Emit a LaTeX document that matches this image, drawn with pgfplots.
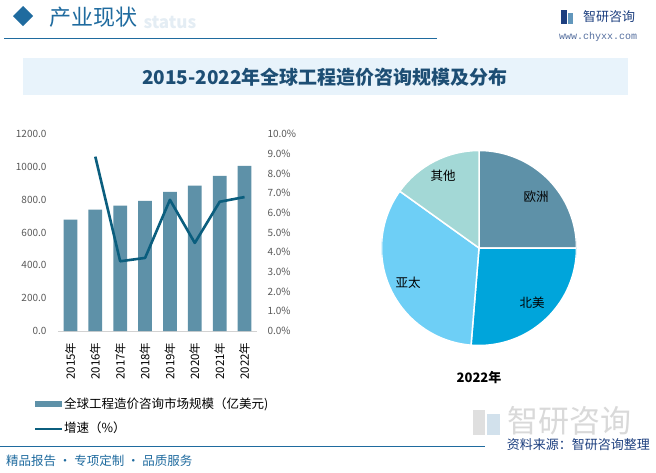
\documentclass[border=0pt]{standalone}
\usepackage{fontspec}
\setmainfont{Noto Sans CJK SC}
\newfontfamily\webfont{Liberation Mono}
\usepackage{pgfplots}
\pgfplotsset{compat=1.18}
\definecolor{barc}{HTML}{5E91A8}
\definecolor{linec}{HTML}{0B5E7E}
\definecolor{euc}{HTML}{5E91A8}
\definecolor{nac}{HTML}{00A5DB}
\definecolor{apc}{HTML}{6ECFF6}
\definecolor{otc}{HTML}{A3D8D6}
\definecolor{hdr}{HTML}{1F6B9F}
\definecolor{ttl}{HTML}{1D4E74}
\definecolor{band}{HTML}{E8F3FB}
\definecolor{tickc}{HTML}{595959}
\definecolor{logoc}{HTML}{1D3F7F}
\begin{document}
\begin{tikzpicture}
\path[use as bounding box] (0,0) rectangle (656bp,-473bp);
\fill[white] (0,0) rectangle (656bp,-473bp);

% header
\fill[hdr] (23bp,-6bp) -- (33bp,-16bp) -- (23bp,-26bp) -- (13bp,-16bp) -- cycle;
\node[anchor=west, text=hdr!12, font=\fontsize{17bp}{17bp}\selectfont\bfseries] at (140bp,-22bp) {status};
\node[anchor=west, inner sep=0pt, text=hdr, font=\fontsize{22bp}{22bp}\selectfont] at (49bp,-17bp) {产业现状};
\draw[hdr, line width=1bp] (4bp,-38bp) -- (437bp,-38bp);
\fill[logoc] (561bp,-10bp) rectangle (567bp,-24bp);
\fill[hdr!70] (568bp,-13bp) rectangle (573bp,-24bp);
\node[anchor=west, inner sep=0pt, text=logoc, font=\fontsize{13bp}{13bp}\selectfont] at (583bp,-17bp) {智研咨询};
\node[anchor=west, inner sep=0pt, text=logoc!75, font=\fontsize{10bp}{10bp}\selectfont\webfont] at (559bp,-36.5bp) {www.chyxx.com};

% title band
\fill[band] (23bp,-58bp) rectangle (628bp,-95bp);
\node[text=ttl, font=\fontsize{19bp}{19bp}\selectfont\bfseries] at (325bp,-77bp) {2015-2022年全球工程造价咨询规模及分布};

% bars
\begin{axis}[
  at={(58bp,-331bp)}, anchor=south west, scale only axis,
  width=199bp, height=197bp,
  xmin=-0.5, xmax=7.5, ymin=0, ymax=1200,
  axis x line*=bottom, axis y line*=left,
  x axis line style={draw=gray!35, -}, y axis line style={draw=none},
  major tick length=0pt,
  xtick={0,...,7},
  xticklabels={2015年,2016年,2017年,2018年,2019年,2020年,2021年,2022年},
  xticklabel shift=8bp,
  xticklabel style={rotate=90, anchor=east, font=\fontsize{11.5bp}{11.5bp}\selectfont, text=black},
  ytick={0,200,...,1200},
  yticklabel shift=8bp,
  yticklabel style={font=\fontsize{10bp}{10bp}\selectfont, text=tickc},
  /pgf/number format/assume math mode=true,
  /pgf/number format/.cd, fixed, fixed zerofill, precision=1, 1000 sep={},
]
\addplot[ybar, bar width=13.7bp, fill=barc, draw=none] coordinates {
(0,678) (1,739) (2,763) (3,793) (4,848) (5,885) (6,945) (7,1006)
};
\end{axis}

% growth line
\begin{axis}[
  at={(58bp,-331bp)}, anchor=south west, scale only axis,
  width=199bp, height=197bp,
  xmin=-0.5, xmax=7.5, ymin=0, ymax=10,
  axis x line=none, axis y line*=right,
  y axis line style={draw=none},
  major tick length=0pt,
  ytick={0,1,...,10},
  yticklabel shift=7bp,
  yticklabel={\pgfmathprintnumber[fixed,fixed zerofill,precision=1,assume math mode=true]{\tick}\%},
  yticklabel style={font=\fontsize{10bp}{10bp}\selectfont, text=tickc},
]
\addplot[linec, line width=2.6bp, line join=round] coordinates {
(1,8.85) (2,3.54) (3,3.71) (4,6.66) (5,4.47) (6,6.56) (7,6.80)
};
\end{axis}

% legend
\fill[barc] (35bp,-401bp) rectangle (62bp,-407bp);
\node[anchor=west, inner sep=0pt, font=\fontsize{12.5bp}{12.5bp}\selectfont] at (64bp,-404bp) {全球工程造价咨询市场规模（亿美元)};
\draw[linec, line width=2bp] (35bp,-429bp) -- (62bp,-429bp);
\node[anchor=west, inner sep=0pt, font=\fontsize{12.5bp}{12.5bp}\selectfont] at (64bp,-428bp) {增速（\%）};

% pie
\begin{axis}[
  at={(479bp,-248bp)}, anchor=center, scale only axis,
  width=195bp, height=195bp, hide axis,
  xmin=-1, xmax=1, ymin=-1, ymax=1,
]
\fill[euc, draw=white, line width=1.5bp] (axis cs:0,0) -- ++(90:97.5bp)
  arc[start angle=90, end angle={90-25.0*3.6}, radius=97.5bp] -- cycle;
\fill[nac, draw=white, line width=1.5bp] (axis cs:0,0) -- ++({90-25.0*3.6}:97.5bp)
  arc[start angle={90-25.0*3.6}, end angle={90-(25.0+26.3)*3.6}, radius=97.5bp] -- cycle;
\fill[apc, draw=white, line width=1.5bp] (axis cs:0,0) -- ++({90-(25.0+26.3)*3.6}:97.5bp)
  arc[start angle={90-(25.0+26.3)*3.6}, end angle={90-(25.0+26.3+33.6)*3.6}, radius=97.5bp] -- cycle;
\fill[otc, draw=white, line width=1.5bp] (axis cs:0,0) -- ++({90-(25.0+26.3+33.6)*3.6}:97.5bp)
  arc[start angle={90-(25.0+26.3+33.6)*3.6}, end angle={90-(25.0+26.3+33.6+15.1)*3.6}, radius=97.5bp] -- cycle;
\end{axis}
\node[font=\fontsize{12.5bp}{12.5bp}\selectfont] at (536bp,-197bp) {欧洲};
\node[font=\fontsize{12.5bp}{12.5bp}\selectfont] at (532bp,-303bp) {北美};
\node[font=\fontsize{12.5bp}{12.5bp}\selectfont] at (408bp,-283bp) {亚太};
\node[font=\fontsize{12.5bp}{12.5bp}\selectfont] at (443bp,-176bp) {其他};
\node[font=\fontsize{13bp}{13bp}\selectfont\bfseries] at (479bp,-378bp) {2022年};

% footer
\fill[gray!25] (473bp,-410bp) rectangle (485bp,-435bp);
\fill[hdr!20] (487bp,-414bp) rectangle (500bp,-435bp);
\node[anchor=west, inner sep=0pt, text=gray!30, font=\fontsize{31bp}{31bp}\selectfont] at (507bp,-421bp) {智研咨询};
\draw[hdr, line width=1bp] (0bp,-446bp) -- (485bp,-446bp);
\node[anchor=east, inner sep=0pt, text=logoc, font=\fontsize{13bp}{13bp}\selectfont] at (650bp,-445bp) {资料来源：智研咨询整理};
\node[anchor=west, inner sep=0pt, text=hdr, font=\fontsize{12.5bp}{12.5bp}\selectfont] at (6bp,-461bp) {精品报告 · 专项定制 · 品质服务};
\end{tikzpicture}
\end{document}
